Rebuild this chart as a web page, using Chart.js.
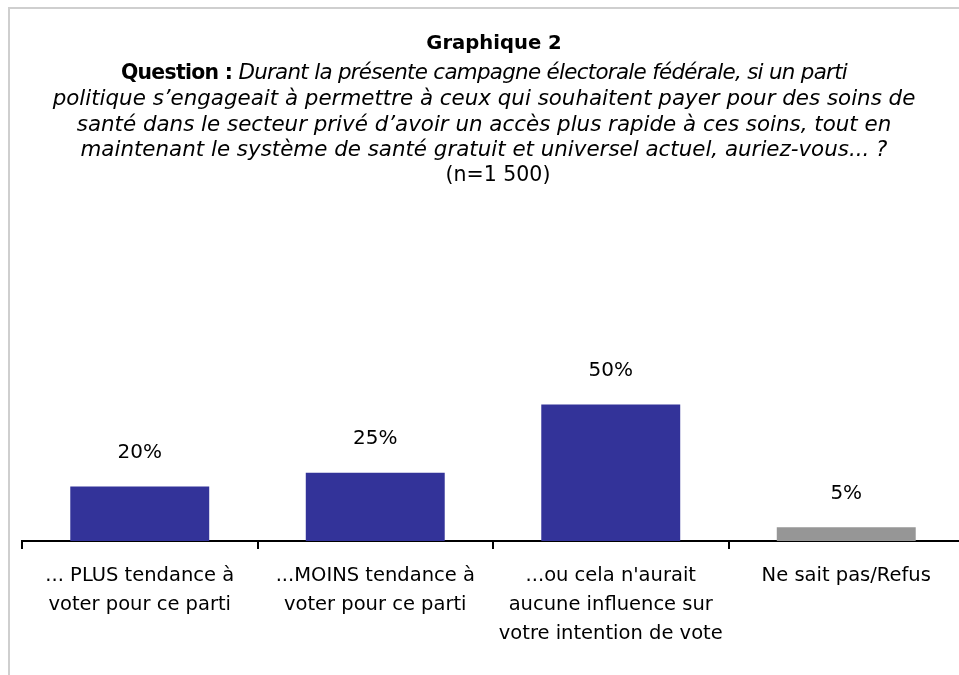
<!DOCTYPE html>
<html>
<head>
<meta charset="utf-8">
<script src="https://cdn.jsdelivr.net/npm/chart.js@4/dist/chart.umd.min.js"></script>
<style>
  html, body { margin: 0; padding: 0; background: #fff; overflow: hidden; }
  #wrap { position: relative; width: 959px; height: 675px; overflow: hidden; }
  #frame { position: absolute; left: 8px; top: 7px; width: 2000px; height: 2000px;
           border-left: 2px solid #cfcfcf; border-top: 2px solid #cfcfcf; }
  #title { position: absolute; left: 8px; top: 30px; width: 952px; text-align: center;
           font-family: "DejaVu Sans", sans-serif; color: #000; }
  #title .head { font-size: 19.6px; font-weight: bold; line-height: 26px; margin-bottom: 3px;
                 position: relative; left: 10px; }
  #title .body { font-size: 21.4px; line-height: 25.25px; }
  #title .body b { font-size: 20.4px; }
  #title .first { letter-spacing: -0.7px; }
  #title .n { font-size: 20.5px; position: relative; left: 14px; }
  #myChart { position: absolute; left: 0; top: 0; }
</style>
</head>
<body>
<div id="wrap">
  <canvas id="myChart" width="980" height="675"></canvas>
  <div id="frame"></div>
  <div id="title">
    <div class="head">Graphique 2</div>
    <div class="body">
      <span class="first"><b>Question :</b> <i>Durant la présente campagne électorale fédérale, si un parti</i></span><br>
      <i>politique s’engageait à permettre à ceux qui souhaitent payer pour des soins de</i><br>
      <i>santé dans le secteur privé d’avoir un accès plus rapide à ces soins, tout en</i><br>
      <i>maintenant le système de santé gratuit et universel actuel, auriez-vous... ?</i><br>
      <span class="n">(n=1 500)</span>
    </div>
  </div>
</div>
<script>
let chart = document.getElementById('myChart');

var categories = [
  ['... PLUS tendance à', 'voter pour ce parti'],
  ['...MOINS tendance à', 'voter pour ce parti'],
  ['...ou cela n\'aurait', 'aucune influence sur', 'votre intention de vote'],
  ['Ne sait pas/Refus']
];
var values = [20, 25, 50, 5];
var bar_colors = ['#333399', '#333399', '#333399', '#969696'];

var font_family = '"DejaVu Sans", sans-serif';

// draws the "xx%" above each bar
const valueLabels = {
  id: 'valueLabels',
  afterDatasetsDraw(c) {
    let ctx = c.ctx;
    let meta = c.getDatasetMeta(0);
    ctx.save();
    ctx.font = '20px ' + font_family;
    ctx.fillStyle = '#000';
    ctx.textAlign = 'center';
    ctx.textBaseline = 'middle';
    meta.data.forEach(function (bar, i) {
      ctx.fillText(values[i] + '%', bar.x, bar.y - 34);
    });
    ctx.restore();
  }
};

const config = {
  type: 'bar',
  data: {
    labels: categories,
    datasets: [{
      data: values,
      backgroundColor: bar_colors,
      borderWidth: 0,
      categoryPercentage: 1,
      barPercentage: 0.59
    }]
  },
  options: {
    responsive: false,
    animation: false,
    layout: {
      padding: { left: 22, right: 16, top: 268, bottom: 0 }
    },
    plugins: {
      legend: { display: false },
      tooltip: { enabled: false },
      title: { display: false }
    },
    scales: {
      x: {
        grid: {
          display: true,
          drawOnChartArea: false,
          drawTicks: true,
          tickLength: 8,
          color: '#000',
          lineWidth: 2
        },
        border: { display: true, color: '#000', width: 2 },
        ticks: {
          color: '#000',
          padding: 12,
          maxRotation: 0,
          autoSkip: false,
          font: { family: font_family, size: 19.5, lineHeight: 1.49 }
        },
        afterFit: function (scale) { scale.height = 134; }
      },
      y: {
        display: false,
        min: 0,
        max: 100
      }
    }
  },
  plugins: [valueLabels]
};

var myChart = new Chart(chart, config);
</script>
</body>
</html>
